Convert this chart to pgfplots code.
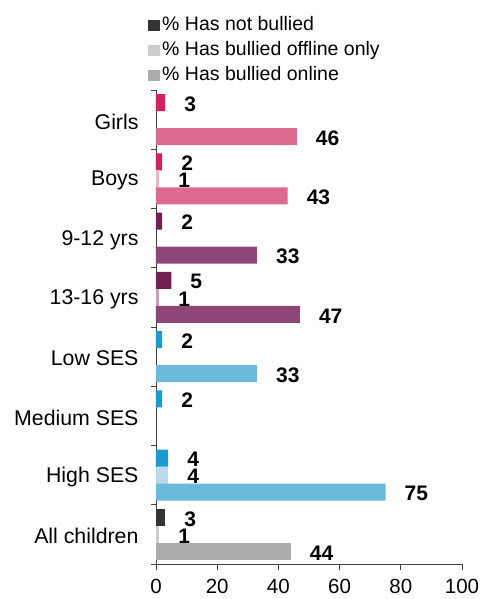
\documentclass[border=0pt]{standalone}
\usepackage{pgfplots}
\pgfplotsset{compat=1.18}
\usepackage{fontspec}
\setmainfont{Liberation Sans}
\definecolor{pinkD}{HTML}{D4215F}
\definecolor{pinkM}{HTML}{DC6B8F}
\definecolor{pinkP}{HTML}{EBB8CB}
\definecolor{purD}{HTML}{6F2252}
\definecolor{purM}{HTML}{8C4678}
\definecolor{purP}{HTML}{C3A3B8}
\definecolor{bluD}{HTML}{1B9AD2}
\definecolor{bluM}{HTML}{6BB9DB}
\definecolor{bluP}{HTML}{B7DBE8}
\definecolor{gryD}{HTML}{333333}
\definecolor{gryP}{HTML}{CCCCCC}
\definecolor{gryM}{HTML}{ABABAB}
\definecolor{axc}{HTML}{404040}
\begin{document}
\begin{tikzpicture}
\useasboundingbox (-156pt,-35pt) rectangle (325pt,564pt);
\begin{axis}[
  at={(0,0)}, anchor=south west,
  scale only axis, width=306pt, height=474pt,
  xmin=0, xmax=100, ymin=-0.5, ymax=7.5, y dir=reverse,
  axis x line*=bottom, axis y line*=left,
  axis line style={-, draw=axc, line width=0.8pt},
  xtick={0,20,...,100}, tick align=outside,
  major tick length=6pt, minor tick length=5pt,
  x tick style={draw=axc, line width=0.8pt},
  ytick={0,...,7},
  yticklabels={Girls,Boys,9-12 yrs,13-16 yrs,Low SES,Medium SES,High SES,All children},
  minor ytick={-0.5,0.5,...,7.5},
  major y tick style={draw=none},
  minor y tick style={draw=axc, line width=0.8pt},
  /pgf/number format/assume math mode=true,
  tick label style={font=\fontsize{20.5}{24}\selectfont},
  yticklabel style={font=\fontsize{21.3}{24}\selectfont, xshift=-8pt, yshift=-2pt},
  xticklabel style={inner sep=0pt, yshift=-8.5pt},
  xbar, bar width=0.287, bar shift=0pt,
  nodes near coords,
  every node near coord/.append style={font=\bfseries\fontsize{21}{24}\selectfont, anchor=west, inner sep=0pt, xshift=19pt, yshift=-1.5pt, text=black},
  legend image code/.code={\fill[#1] (0pt,-5.75pt) rectangle (11.5pt,5.75pt);},
  legend style={at={(rel axis cs:-0.026,1)}, anchor=south west, draw=none, fill=none,
    inner sep=0pt, row sep=7pt, font=\fontsize{19.5}{22}\selectfont,
    nodes={text height=14pt, text depth=4pt, inner ysep=0pt, inner xsep=2.5pt},
    cells={anchor=west}, yshift=5.5pt},
  clip=false,
]
\addlegendimage{fill=gryD, draw=none}
\addlegendentry{\% Has not bullied}
\addlegendimage{fill=gryP, draw=none}
\addlegendentry{\% Has bullied offline only}
\addlegendimage{fill=gryM, draw=none}
\addlegendentry{\% Has bullied online}
% not bullied
\addplot[fill=pinkD, draw=none, forget plot] coordinates {(3,-0.287) (2,0.713)};
\addplot[fill=purD, draw=none, forget plot] coordinates {(2,1.713) (5,2.713)};
\addplot[fill=bluD, draw=none, forget plot] coordinates {(2,3.713) (2,4.713) (4,5.713)};
\addplot[fill=gryD, draw=none, forget plot] coordinates {(3,6.713)};
% offline only
\addplot[fill=pinkP, draw=none, forget plot] coordinates {(1,1)};
\addplot[fill=purP, draw=none, forget plot] coordinates {(1,3)};
\addplot[fill=bluP, draw=none, forget plot] coordinates {(4,6)};
\addplot[fill=gryP, draw=none, forget plot] coordinates {(1,7)};
% online
\addplot[fill=pinkM, draw=none, forget plot] coordinates {(46,0.287) (43,1.287)};
\addplot[fill=purM, draw=none, forget plot] coordinates {(33,2.287) (47,3.287)};
\addplot[fill=bluM, draw=none, forget plot] coordinates {(33,4.287) (75,6.287)};
\addplot[fill=gryM, draw=none, forget plot] coordinates {(44,7.287)};
\end{axis}
\end{tikzpicture}
\end{document}
